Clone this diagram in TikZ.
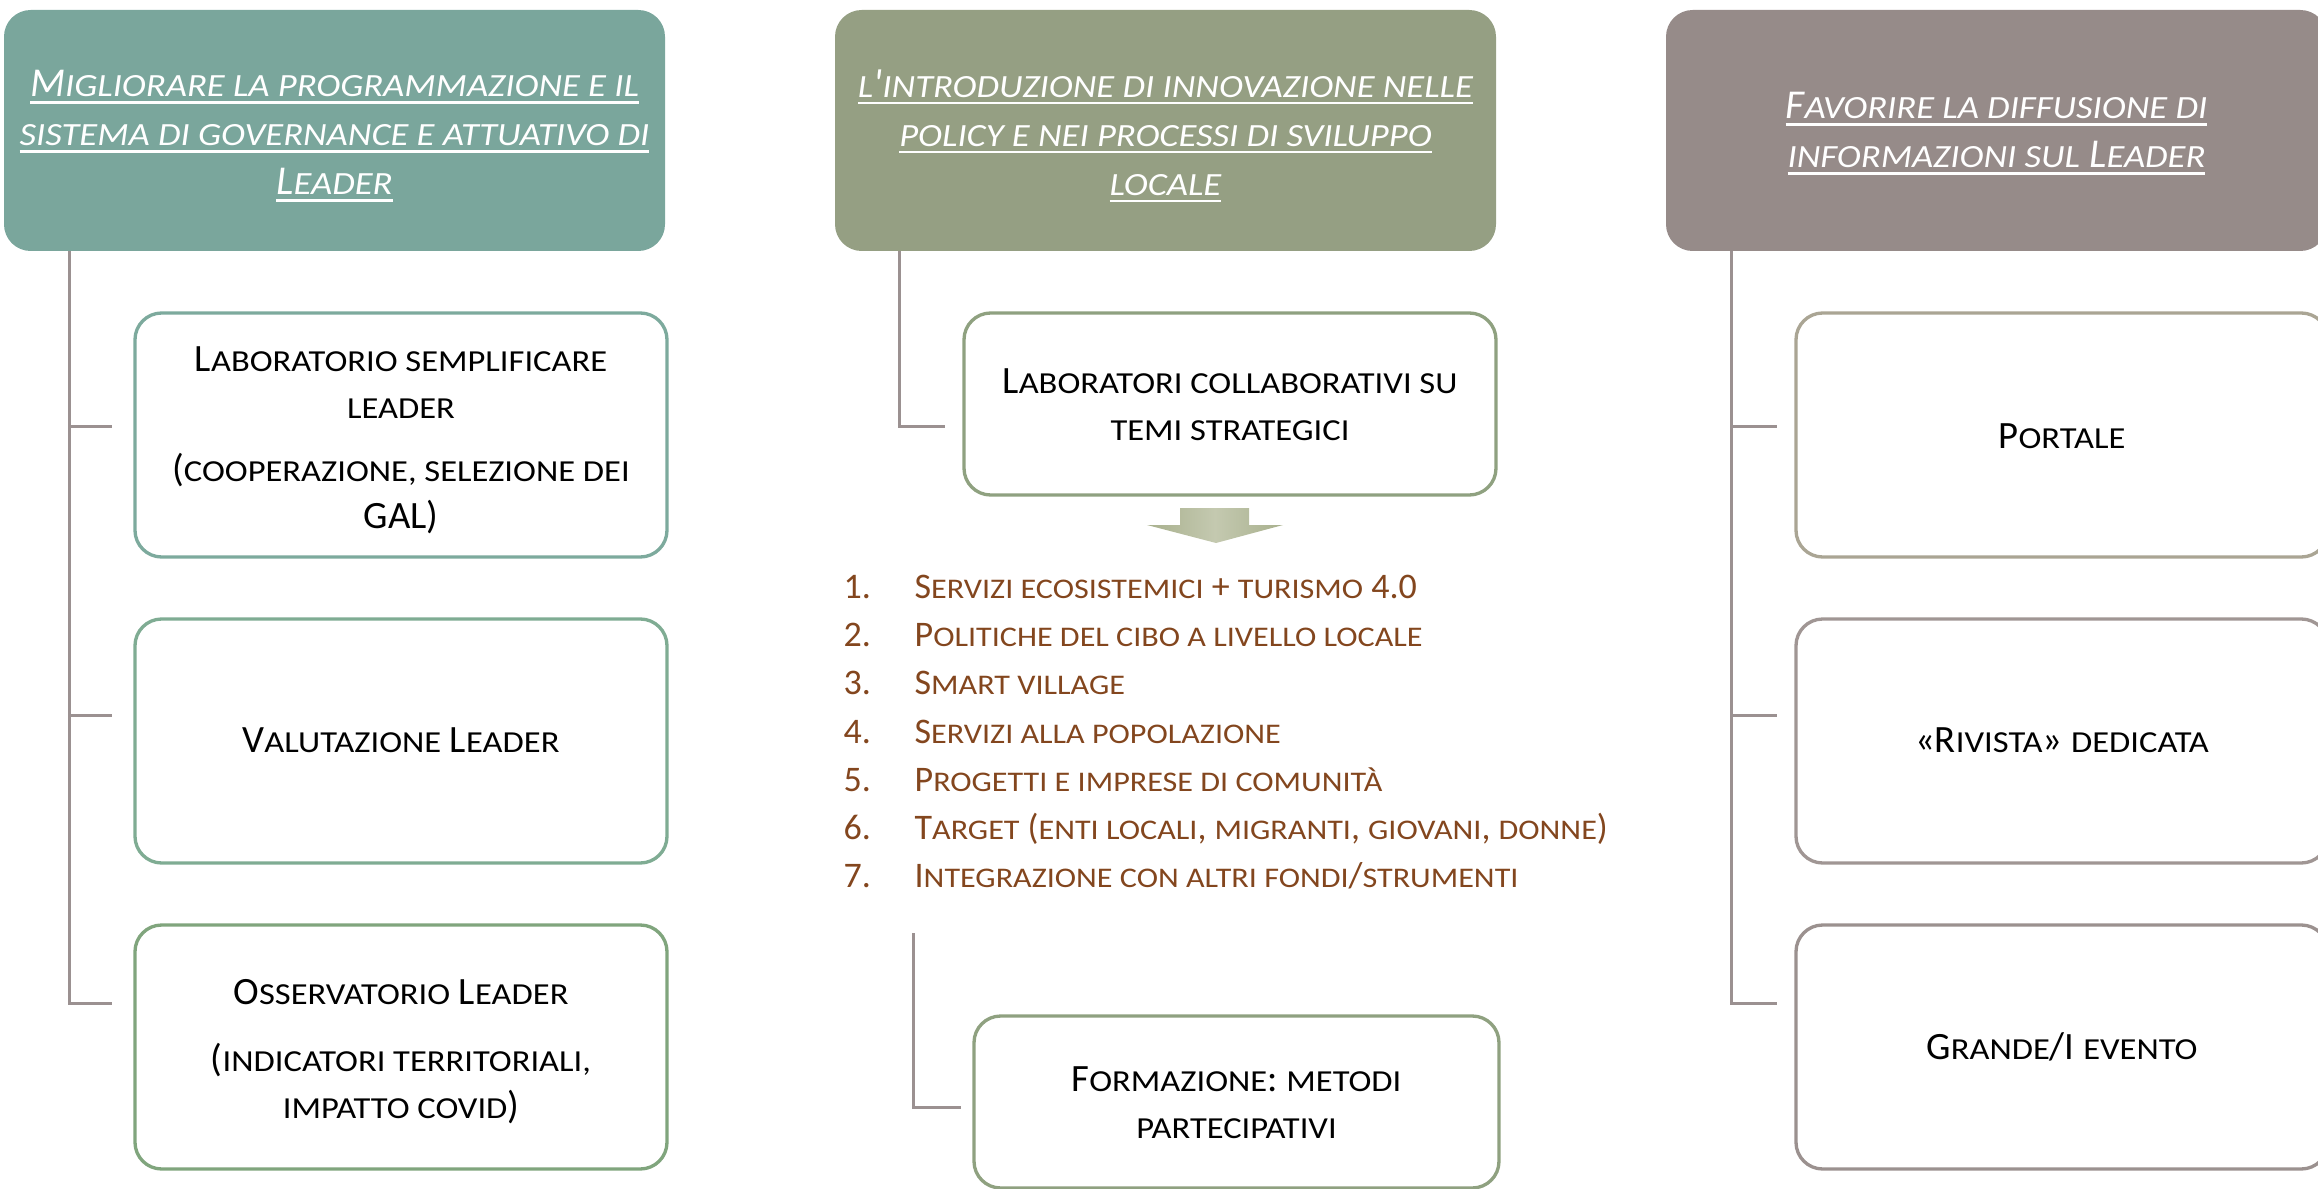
\documentclass[tikz,border=0pt]{standalone}
\usepackage{fontspec}
\setmainfont{Carlito}
\newfontfamily\smcfam[Scale=0.79, FakeStretch=1.13]{Carlito}
\newcommand\sm[1]{{\smcfam #1}}
\newsavebox\ulbox
\newcommand\uln[1]{\sbox\ulbox{#1}\rlap{\rule[-2.2pt]{\wd\ulbox}{0.8pt}}\usebox\ulbox}
\definecolor{headL}{HTML}{7AA69C}
\definecolor{headM}{HTML}{959F83}
\definecolor{headR}{HTML}{968B89}
\definecolor{bdL1}{HTML}{7DAA9D}
\definecolor{bdL2}{HTML}{7FAC93}
\definecolor{bdL3}{HTML}{80A57D}
\definecolor{bdM}{HTML}{8FA180}
\definecolor{bdR1}{HTML}{AAA594}
\definecolor{bdR2}{HTML}{A09694}
\definecolor{bdR3}{HTML}{9B918F}
\definecolor{trunkc}{HTML}{9B9191}
\definecolor{listc}{HTML}{83461E}
\definecolor{arrowA}{HTML}{A8B08D}
\definecolor{arrowB}{HTML}{C4C9B0}
\tikzset{
  headbox/.style={rounded corners=8pt, inner sep=0pt, outer sep=0pt,
    minimum width=198.3pt, minimum height=72.3pt},
  headtext/.style={inner sep=0pt, text=white, align=center,
    font=\fontsize{12.3}{14.7}\selectfont\itshape},
  childbox/.style={draw, line width=1pt, rounded corners=8pt, fill=white,
    inner sep=0pt, outer sep=0pt, minimum width=159.6pt, minimum height=73.2pt},
  boxtext/.style={inner sep=0pt, align=center, text=black,
    font=\fontsize{11.6}{14.1}\selectfont},
  midbox/.style={childbox, minimum height=54.6pt, draw=bdM},
  trunk/.style={draw=trunkc, line width=0.9pt},
  listitem/.style={anchor=base west, inner sep=0pt, text=listc,
    font=\fontsize{10.8}{14.5}\selectfont},
}
\newcommand\num[1]{\makebox[21.3pt][l]{#1}}
\begin{document}
\begin{tikzpicture}[x=0.3pt, y=-0.3pt]
\useasboundingbox (0,0) rectangle (2318,1189);
\clip (0,0) rectangle (2318,1189);

% headers
\node[headbox, fill=headL] (hL) at (334.5,130.5) {};
\node[headtext] (hLt) at (334.5,136) {%
  \uln{M\sm{IGLIORARE LA PROGRAMMAZIONE E IL}}\\
  \uln{\sm{SISTEMA DI GOVERNANCE E ATTUATIVO DI}}\\
  \uln{L\sm{EADER}}};
\node[headbox, fill=headM] (hM) at (1165.5,130.5) {};
\node[headtext] (hMt) at (1165.5,136) {%
  \uln{\sm{L}\textquotesingle\sm{INTRODUZIONE DI INNOVAZIONE NELLE}}\\
  \uln{\sm{POLICY E NEI PROCESSI DI SVILUPPO}}\\
  \uln{\sm{LOCALE}}};
\node[headbox, fill=headR] (hR) at (1996.5,130.5) {};
\node[headtext] (hRt) at (1996.5,133.5) {%
  \uln{F\sm{AVORIRE LA DIFFUSIONE DI}}\\
  \uln{\sm{INFORMAZIONI SUL} L\sm{EADER}}};

% left column
\node[childbox, draw=bdL1] (bL1) at (401,435) {};
\node[boxtext] (bL1t) at (401,440) {%
  L\sm{ABORATORIO SEMPLIFICARE}\\ \sm{LEADER}\\[4.8pt]
  (\sm{COOPERAZIONE, SELEZIONE DEI}\\ GAL)};
\node[childbox, draw=bdL2] (bL2) at (401,741) {};
\node[boxtext] (bL2t) at (401,740) {V\sm{ALUTAZIONE} L\sm{EADER}};
\node[childbox, draw=bdL3] (bL3) at (401,1047) {};
\node[boxtext] (bL3t) at (401,1051.5) {%
  O\sm{SSERVATORIO} L\sm{EADER}\\[6pt]
  (\sm{INDICATORI TERRITORIALI,}\\ \sm{IMPATTO COVID})};

\coordinate (tL) at (69,251);
\coordinate (jL1) at (112,426);
\coordinate (jL2) at (112,715);
\coordinate (jL3) at (112,1003);
\draw[trunk] (tL) |- (jL3);
\draw[trunk] (tL |- jL1) -- (jL1);
\draw[trunk] (tL |- jL2) -- (jL2);

% middle column
\node[midbox] (bM1) at (1230,404) {};
\node[boxtext] (bM1t) at (1230,405) {%
  L\sm{ABORATORI COLLABORATIVI SU}\\ \sm{TEMI STRATEGICI}};
\coordinate (tM) at (899,251);
\coordinate (jM1) at (945,426);
\draw[trunk] (tM) |- (jM1);

\shade[left color=arrowA, right color=arrowA, middle color=arrowB]
  (1180,508) -- (1249,508) -- (1249,525) -- (1283,525) -- (1216,543)
  -- (1147,525) -- (1180,525) -- cycle;

\node[listitem] (l1) at (843,598) {\num{1.}S\sm{ERVIZI ECOSISTEMICI} + \sm{TURISMO} 4.0};
\node[listitem] (l2) at (843,646) {\num{2.}P\sm{OLITICHE DEL CIBO A LIVELLO LOCALE}};
\node[listitem] (l3) at (843,694) {\num{3.}S\sm{MART VILLAGE}};
\node[listitem] (l4) at (843,743) {\num{4.}S\sm{ERVIZI ALLA POPOLAZIONE}};
\node[listitem] (l5) at (843,791) {\num{5.}P\sm{ROGETTI E IMPRESE DI COMUNITÀ}};
\node[listitem] (l6) at (843,839) {\num{6.}T\sm{ARGET} (\sm{ENTI LOCALI}, \sm{MIGRANTI}, \sm{GIOVANI}, \sm{DONNE})};
\node[listitem] (l7) at (843,887) {\num{7.}I\sm{NTEGRAZIONE CON ALTRI FONDI}/\sm{STRUMENTI}};

\node[midbox, minimum width=157.5pt, minimum height=51.6pt] (bM2) at (1236.5,1102) {};
\node[boxtext] (bM2t) at (1236.5,1103) {%
  F\sm{ORMAZIONE}: \sm{METODI}\\ \sm{PARTECIPATIVI}};
\coordinate (tM2) at (913,933);
\coordinate (jM2) at (961,1107);
\draw[trunk] (tM2) |- (jM2);

% right column
\node[childbox, draw=bdR1] (bR1) at (2062,435) {};
\node[boxtext] (bR1t) at (2062,436.5) {P\sm{ORTALE}};
\node[childbox, draw=bdR2] (bR2) at (2062,741) {};
\node[boxtext] (bR2t) at (2062,740) {«R\sm{IVISTA}» \sm{DEDICATA}};
\node[childbox, draw=bdR3] (bR3) at (2062,1047) {};
\node[boxtext] (bR3t) at (2062,1047) {G\sm{RANDE}/I \sm{EVENTO}};
\coordinate (tR) at (1731,251);
\coordinate (jR1) at (1777,426);
\coordinate (jR2) at (1777,715);
\coordinate (jR3) at (1777,1003);
\draw[trunk] (tR) |- (jR3);
\draw[trunk] (tR |- jR1) -- (jR1);
\draw[trunk] (tR |- jR2) -- (jR2);
\end{tikzpicture}
\end{document}
